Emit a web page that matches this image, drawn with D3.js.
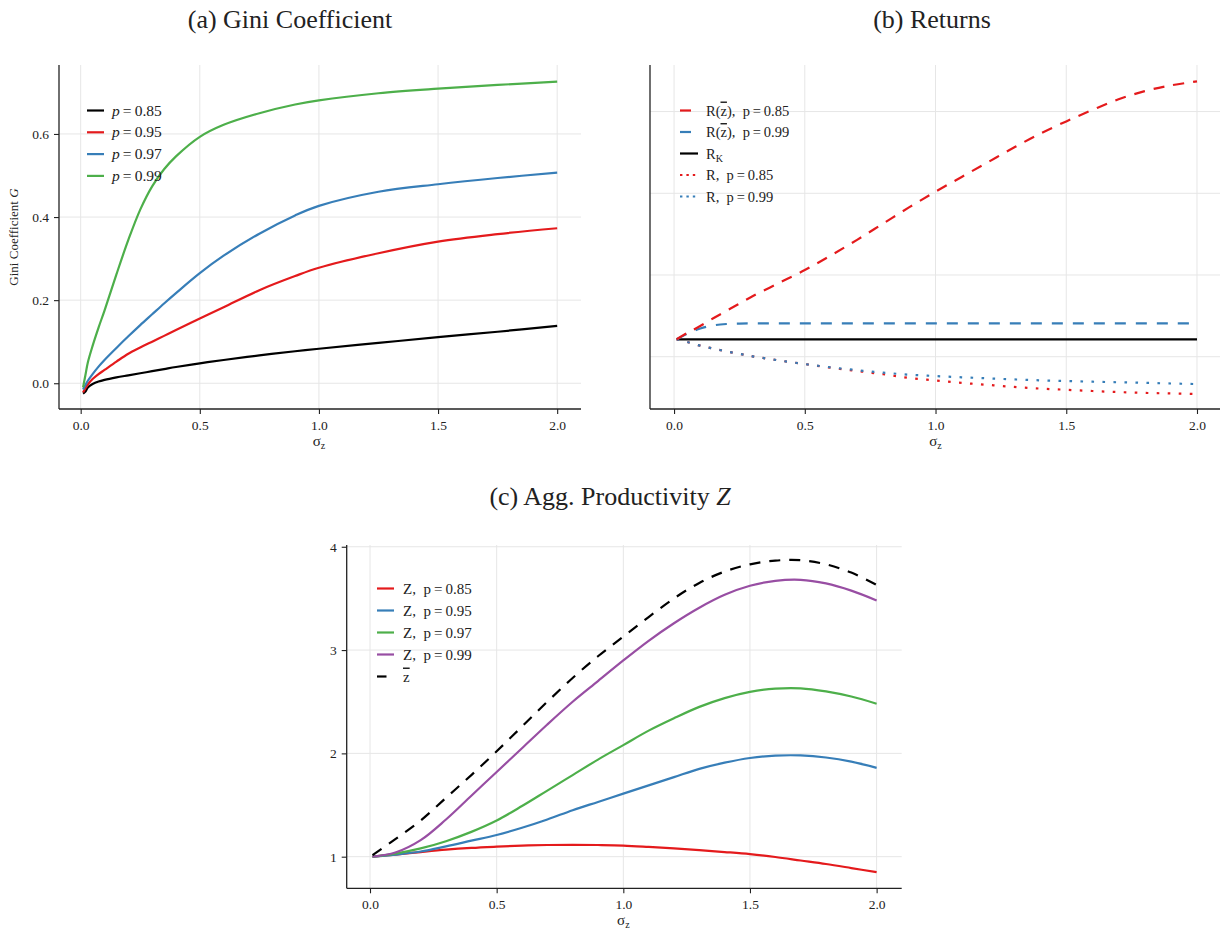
<!DOCTYPE html>
<html>
<head>
<meta charset="utf-8">
<script src="https://cdn.jsdelivr.net/npm/d3@7"></script>
<style>
  body { margin: 0; background: #fff; }
  svg text { font-family: "Liberation Serif", "Times New Roman", serif; fill: #222; }
</style>
</head>
<body>
<svg id="fig" width="1225" height="932"></svg>
<script>
// data

// (a) Gini coefficient
var sigmaA = [0.01, 0.02, 0.03, 0.05, 0.075, 0.1, 0.15, 0.2, 0.25, 0.3, 0.35, 0.4, 0.5, 0.6, 0.75, 0.9, 1.0, 1.25, 1.5, 1.75, 2.0];
var gini085 = [-0.025, -0.02, -0.01, -0.002, 0.004, 0.008, 0.014, 0.019, 0.024, 0.029, 0.034, 0.039, 0.048, 0.056, 0.067, 0.077, 0.083, 0.097, 0.111, 0.124, 0.138];
var gini095 = [-0.022, -0.012, -0.003, 0.01, 0.022, 0.032, 0.052, 0.071, 0.086, 0.1, 0.114, 0.128, 0.156, 0.183, 0.224, 0.258, 0.278, 0.313, 0.341, 0.359, 0.373];
var gini097 = [-0.015, -0.004, 0.006, 0.022, 0.04, 0.056, 0.085, 0.113, 0.14, 0.166, 0.192, 0.217, 0.265, 0.307, 0.36, 0.404, 0.427, 0.461, 0.479, 0.494, 0.507];
var gini099 = [-0.01, 0.02, 0.05, 0.09, 0.134, 0.175, 0.262, 0.345, 0.418, 0.474, 0.515, 0.546, 0.593, 0.622, 0.65, 0.671, 0.681, 0.698, 0.709, 0.718, 0.726];
var giniYTicks = [0, 0.2, 0.4, 0.6];

// (b) returns, in grid units (y labels are not shown in the original)
var sigmaB = [0.01, 0.05, 0.1, 0.15, 0.2, 0.25, 0.3, 0.4, 0.5, 0.6, 0.7, 0.8, 0.9, 1.0, 1.1, 1.2, 1.3, 1.4, 1.5, 1.6, 1.7, 1.8, 1.9, 2.0];
var rzbar085 = [0.213, 0.29, 0.375, 0.47, 0.56, 0.65, 0.74, 0.9, 1.06, 1.24, 1.43, 1.63, 1.83, 2.02, 2.2, 2.38, 2.56, 2.73, 2.88, 3.02, 3.15, 3.25, 3.32, 3.37];
var rzbar099 = [0.213, 0.28, 0.345, 0.383, 0.4, 0.406, 0.408, 0.408, 0.408, 0.408, 0.408, 0.408, 0.408, 0.408, 0.408, 0.408, 0.408, 0.408, 0.408, 0.408, 0.408, 0.408, 0.408, 0.408];
var rK = [0.213, 0.213, 0.213, 0.213, 0.213, 0.213, 0.213, 0.213, 0.213, 0.213, 0.213, 0.213, 0.213, 0.213, 0.213, 0.213, 0.213, 0.213, 0.213, 0.213, 0.213, 0.213, 0.213, 0.213];
var r085 = [0.213, 0.18, 0.135, 0.1, 0.065, 0.035, 0.005, -0.045, -0.09, -0.135, -0.175, -0.215, -0.26, -0.29, -0.32, -0.345, -0.37, -0.39, -0.405, -0.42, -0.433, -0.443, -0.45, -0.457];
var r099 = [0.213, 0.18, 0.135, 0.1, 0.065, 0.035, 0.005, -0.045, -0.09, -0.13, -0.165, -0.195, -0.22, -0.237, -0.252, -0.265, -0.278, -0.289, -0.298, -0.306, -0.313, -0.32, -0.328, -0.335];
var returnsGrid = [0, 1, 2, 3];

// (c) aggregate productivity
var sigmaC = [0.01, 0.1, 0.2, 0.3, 0.4, 0.5, 0.6, 0.7, 0.8, 0.9, 1.0, 1.1, 1.2, 1.3, 1.4, 1.5, 1.6, 1.7, 1.8, 1.9, 2.0];
var z085 = [1.0, 1.02, 1.045, 1.068, 1.085, 1.097, 1.107, 1.113, 1.115, 1.113, 1.108, 1.095, 1.08, 1.063, 1.045, 1.025, 0.997, 0.963, 0.929, 0.89, 0.85];
var z095 = [1.0, 1.02, 1.05, 1.1, 1.155, 1.21, 1.28, 1.36, 1.45, 1.53, 1.61, 1.69, 1.77, 1.85, 1.91, 1.955, 1.978, 1.98, 1.96, 1.92, 1.86];
var z097 = [1.0, 1.03, 1.08, 1.15, 1.24, 1.35, 1.49, 1.64, 1.79, 1.94, 2.08, 2.22, 2.34, 2.45, 2.535, 2.595, 2.627, 2.63, 2.6, 2.55, 2.48];
var z099 = [1.0, 1.04, 1.16, 1.36, 1.59, 1.82, 2.05, 2.28, 2.5, 2.7, 2.9, 3.09, 3.26, 3.41, 3.535, 3.622, 3.67, 3.68, 3.645, 3.575, 3.48];
var zbar = [1.015, 1.17, 1.35, 1.57, 1.79, 2.02, 2.26, 2.5, 2.73, 2.94, 3.13, 3.32, 3.5, 3.65, 3.76, 3.83, 3.866, 3.87, 3.83, 3.75, 3.63];
var zYTicks = [1, 2, 3, 4];

var sigmaTicks = [0, 0.5, 1, 1.5, 2];

var red = "#e41a1c", blue = "#377eb8", green = "#4daf4a", purple = "#984ea3";
var sp = "\u00a0\u00a0";

var svg = d3.select("#fig");

function panel(opts) {
    var x = d3.scaleLinear().domain(opts.xDomain).range([opts.left, opts.right]);
    var y = d3.scaleLinear().domain(opts.yDomain).range([opts.bottom, opts.top]);
    var g = svg.append("g");

    // grid
    g.selectAll(".vgrid").data(sigmaTicks).enter().append("line")
        .attr("x1", function (d) { return x(d); })
        .attr("x2", function (d) { return x(d); })
        .attr("y1", opts.top).attr("y2", opts.bottom)
        .style("stroke", "#e6e6e6").style("stroke-width", 1);
    g.selectAll(".hgrid").data(opts.yTicks).enter().append("line")
        .attr("y1", function (d) { return y(d); })
        .attr("y2", function (d) { return y(d); })
        .attr("x1", opts.left).attr("x2", opts.right)
        .style("stroke", "#e6e6e6").style("stroke-width", 1);

    // lines
    var line = d3.line()
        .x(function (d) { return x(d[0]); })
        .y(function (d) { return y(d[1]); })
        .curve(d3.curveCatmullRom.alpha(0.5));

    opts.series.forEach(function (s) {
        var pts = opts.sigma.map(function (v, i) { return [v, s.values[i]]; });
        g.append("path")
            .attr("d", line(pts))
            .style("fill", "none")
            .style("stroke", s.color)
            .style("stroke-width", 2.2)
            .style("stroke-dasharray", s.dash || null);
    });

    // axes
    var xAxis = d3.axisBottom(x).tickValues(sigmaTicks).tickSize(5).tickPadding(6)
        .tickFormat(d3.format(".1f"));
    var gx = g.append("g").attr("transform", "translate(0," + opts.bottom + ")").call(xAxis);
    gx.select(".domain").attr("d", "M" + opts.left + ",0H" + opts.right);

    var yAxis = d3.axisLeft(y).tickValues(opts.showYTicks ? opts.yTicks : []).tickSize(5).tickPadding(5)
        .tickFormat(opts.yFormat);
    var gy = g.append("g").attr("transform", "translate(" + opts.left + ",0)").call(yAxis);
    gy.select(".domain").attr("d", "M0," + opts.top + "V" + opts.bottom);

    [gx, gy].forEach(function (ax) {
        ax.select(".domain").style("stroke", "#222").style("stroke-width", 1.3);
        ax.selectAll(".tick line").style("stroke", "#222").style("stroke-width", 1.1);
        ax.selectAll(".tick text").style("font-family", "Liberation Serif").style("font-size", "13.5px").style("fill", "#222");
    });

    // x label sigma_z
    var xl = g.append("text")
        .attr("x", (x(0) + x(2)) / 2)
        .attr("y", opts.bottom + 37)
        .attr("text-anchor", "middle")
        .style("font-size", "15px");
    xl.append("tspan").text("σ");
    xl.append("tspan").attr("dy", 3).style("font-size", "10px").text("z");

    // legend
    opts.legend.forEach(function (s, i) {
        var ly = opts.legendY + i * opts.legendStep;
        g.append("line")
            .attr("x1", opts.legendX).attr("x2", opts.legendX + opts.sampleLen)
            .attr("y1", ly).attr("y2", ly)
            .style("stroke", s.color).style("stroke-width", 2.2)
            .style("stroke-dasharray", s.legendDash || null);
        var t = g.append("text")
            .attr("x", opts.legendTextX).attr("y", ly + 5)
            .style("font-size", opts.legendSize + "px");
        s.label(t);
    });

    return g;
}

function pLabel(val) {
    return function (t) {
        t.append("tspan").style("font-style", "italic").text("p");
        t.append("tspan").text("\u2009=\u2009" + val);
    };
}

function rzLabel(val) {
    return function (t) {
        t.append("tspan").text("R(");
        t.append("tspan").style("text-decoration", "overline").text("z");
        t.append("tspan").text(")," + sp + "p\u2009=\u2009" + val);
    };
}

function plain(txt) {
    return function (t) { t.text(txt); };
}

// (a)
panel({
    left: 59, right: 581, top: 65, bottom: 409,
    xDomain: [-0.091, 2.1], yDomain: [-0.062, 0.766],
    yTicks: giniYTicks, showYTicks: true, yFormat: d3.format(".1f"),
    sigma: sigmaA,
    series: [
        { values: gini085, color: "#000" },
        { values: gini095, color: red },
        { values: gini097, color: blue },
        { values: gini099, color: green }
    ],
    legend: [
        { color: "#000", label: pLabel("0.85") },
        { color: red, label: pLabel("0.95") },
        { color: blue, label: pLabel("0.97") },
        { color: green, label: pLabel("0.99") }
    ],
    legendX: 87, sampleLen: 17, legendTextX: 112, legendY: 110.5, legendStep: 21.8, legendSize: 15.5
});

// (b)
panel({
    left: 650, right: 1220, top: 65, bottom: 409,
    xDomain: [-0.092, 2.088], yDomain: [-0.64, 3.57],
    yTicks: returnsGrid, showYTicks: false, yFormat: null,
    sigma: sigmaB,
    series: [
        { values: rK, color: "#000" },
        { values: r085, color: red, dash: "2.6,8.4" },
        { values: r099, color: blue, dash: "2.6,8.4" },
        { values: rzbar099, color: blue, dash: "11,10" },
        { values: rzbar085, color: red, dash: "11,9" }
    ],
    legend: [
        { color: red, legendDash: "11,20", label: rzLabel("0.85") },
        { color: blue, legendDash: "11,20", label: rzLabel("0.99") },
        { color: "#000", label: function (t) {
            t.append("tspan").text("R");
            t.append("tspan").attr("dy", 3).style("font-size", "10px").text("K");
        } },
        { color: red, legendDash: "2.4,4", label: plain("R," + sp + "p\u2009=\u20090.85") },
        { color: blue, legendDash: "2.4,4", label: plain("R," + sp + "p\u2009=\u20090.99") }
    ],
    legendX: 680, sampleLen: 18, legendTextX: 706, legendY: 110.5, legendStep: 21.5, legendSize: 14.5
});

// (c)
panel({
    left: 346.7, right: 901.7, top: 545, bottom: 888.3,
    xDomain: [-0.092, 2.099], yDomain: [0.694, 4.017],
    yTicks: zYTicks, showYTicks: true, yFormat: d3.format("d"),
    sigma: sigmaC,
    series: [
        { values: z085, color: red },
        { values: z095, color: blue },
        { values: z097, color: green },
        { values: z099, color: purple },
        { values: zbar, color: "#000", dash: "11,9" }
    ],
    legend: [
        { color: red, label: plain("Z," + sp + "p\u2009=\u20090.85") },
        { color: blue, label: plain("Z," + sp + "p\u2009=\u20090.95") },
        { color: green, label: plain("Z," + sp + "p\u2009=\u20090.97") },
        { color: purple, label: plain("Z," + sp + "p\u2009=\u20090.99") },
        { color: "#000", legendDash: "9.5,20", label: function (t) {
            t.append("tspan").style("text-decoration", "overline").text("z");
        } }
    ],
    legendX: 377, sampleLen: 17, legendTextX: 403, legendY: 588.5, legendStep: 22, legendSize: 15
});

// y label of (a)
var yl = svg.append("text")
    .attr("transform", "translate(18,237) rotate(-90)")
    .attr("text-anchor", "middle")
    .style("font-size", "13px");
yl.append("tspan").text("Gini Coefficient ");
yl.append("tspan").style("font-style", "italic").text("G");

// titles
svg.append("text").attr("x", 290).attr("y", 28).attr("text-anchor", "middle")
    .style("font-size", "26px").text("(a) Gini Coefficient");
svg.append("text").attr("x", 932).attr("y", 28).attr("text-anchor", "middle")
    .style("font-size", "26px").text("(b) Returns");
var tc = svg.append("text").attr("x", 610).attr("y", 505).attr("text-anchor", "middle")
    .style("font-size", "26px");
tc.append("tspan").text("(c) Agg. Productivity ");
tc.append("tspan").style("font-style", "italic").text("Z");
</script>
</body>
</html>
